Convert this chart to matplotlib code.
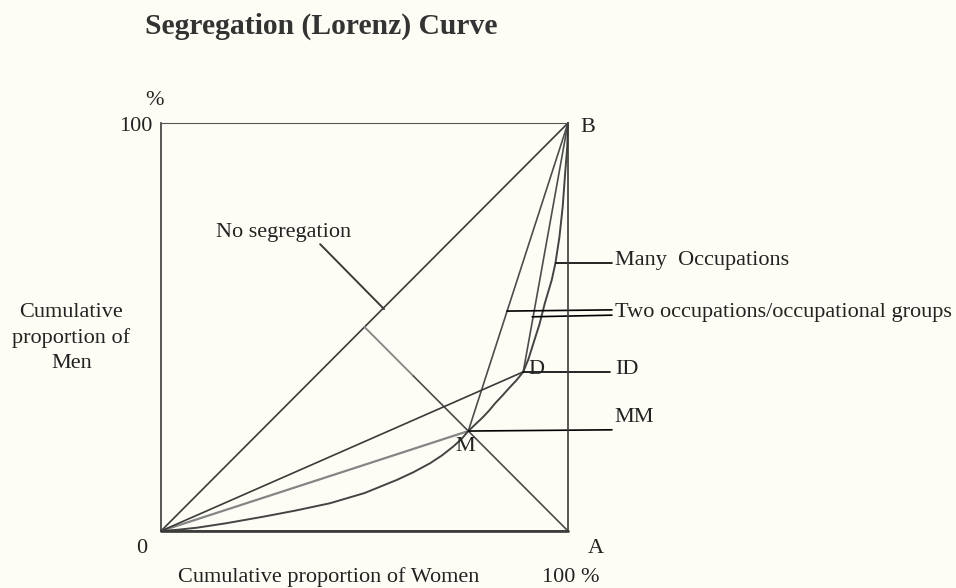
import matplotlib.pyplot as plt

# points of the diagram (percent of women, percent of men)
point_o = (0, 0)
point_a = (100, 0)
point_b = (100, 100)
point_mid = (50, 50)
point_m = (75.5, 24.5)
point_d = (89, 39)

# many-occupations Lorenz curve
curve_x = [0, 4, 8.8, 16, 25.1, 33, 41.5, 50, 57.9, 62, 66.1, 69, 71.8, 73.8, 75.5,
           77.3, 79, 80.6, 82.1, 83.8, 85.5, 87.3, 89, 90.3, 91.5, 93.0, 94.3, 96.0,
           96.9, 97.9, 98.7, 99.3, 99.8, 100]
curve_y = [0, 0.3, 0.8, 1.9, 3.5, 5.0, 6.8, 9.3, 12.5, 14.4, 16.6, 18.5, 20.7, 22.5, 24.5,
           26.2, 27.8, 29.5, 31.3, 33.1, 35.0, 36.9, 39, 42.2, 46, 50.7, 55.8, 61.5,
           65.6, 72.1, 79.5, 87.7, 94, 100]

bg = '#fefdf5'
dark = '#3a3a3a'
grey = '#858585'
plt.rcParams['font.family'] = ['Liberation Serif', 'DejaVu Serif']

fig = plt.figure(figsize=(9.56, 5.88), dpi=100)
fig.patch.set_facecolor(bg)
ax = fig.add_axes([161 / 956, 57 / 588, 407 / 956, 408 / 588])
ax.set_facecolor(bg)
ax.set_xlim(0, 100)
ax.set_ylim(0, 100)
ax.set_xticks([])
ax.set_yticks([])
for side in ['left', 'right', 'bottom']:
    ax.spines[side].set_color(dark)
    ax.spines[side].set_linewidth(1.2)
ax.spines['top'].set_color('#555555')
ax.spines['top'].set_linewidth(0.8)


def seg(p, q, color=dark, lw=1.2):
    ax.plot([p[0], q[0]], [p[1], q[1]], color=color, lw=lw, clip_on=False,
            solid_capstyle='round')


# no segregation diagonal and the perpendicular from A
seg(point_o, point_b)
seg(point_mid, (62, 38), color='#8a8a8a', lw=1.4)
seg((62, 38), point_a, color='#4a4a4a')
# two-occupation cases
seg(point_o, point_m, color=grey, lw=1.6)
seg(point_m, point_b, color='#4d4d4d')
seg(point_o, point_d)
seg(point_d, point_b, color='#4d4d4d')
# bottom line O-A emphasised
seg(point_o, point_a, color='#444444', lw=2.0)
# many-occupations curve
ax.plot(curve_x, curve_y, color='#444444', lw=1.4, clip_on=False)

# leader lines
seg((39.1, 70.3), (54.8, 54.4), lw=1.4)
seg((97.1, 65.7), (110.8, 65.7), color='black', lw=1.2)
seg((85.0, 53.9), (110.8, 54.2), color='black', lw=1.2)
seg((91.2, 52.5), (110.8, 52.9), color='black', lw=1.2)
seg(point_d, (110.3, 39), color='black', lw=1.2)
seg(point_m, (110.8, 24.8), color='black', lw=1.2)

fs = 16
txt = dict(fontsize=fs, color='#222222', clip_on=False)
ax.text(-1.5, 105.4, '%', ha='center', va='center', **txt)
ax.text(-2.2, 99.2, '100', ha='right', va='center', **txt)
ax.text(103, 98.8, 'B', ha='left', va='center', **txt)
ax.text(13.5, 73.2, 'No segregation', ha='left', va='center', **txt)
ax.text(111.5, 66.4, 'Many  Occupations', ha='left', va='center', **txt)
ax.text(111.5, 53.5, 'Two occupations/occupational groups', ha='left', va='center', **txt)
ax.text(90.2, 39.6, 'D', ha='left', va='center', **txt)
ax.text(111.5, 39.6, 'ID', ha='left', va='center', **txt)
ax.text(111.5, 27.8, 'MM', ha='left', va='center', **txt)
ax.text(74.7, 20.8, 'M', ha='center', va='center', **txt)
ax.text(-4.7, -4.4, '0', ha='center', va='center', **txt)
ax.text(106.9, -4.4, 'A', ha='center', va='center', **txt)
ax.text(100.7, -11.3, '100 %', ha='center', va='center', **txt)
ax.text(41.2, -11.3, 'Cumulative proportion of Women', ha='center', va='center', **txt)
ax.text(-22, 47.3, 'Cumulative\nproportion of\nMen', ha='center', va='center',
        multialignment='center', linespacing=1.4, **txt)

fig.text(321 / 956, 1 - 26 / 588, 'Segregation (Lorenz) Curve', ha='center', va='center',
         fontsize=21.3, fontweight='bold', color='#333333')

fig.savefig('out.png', dpi=100, facecolor=bg)
